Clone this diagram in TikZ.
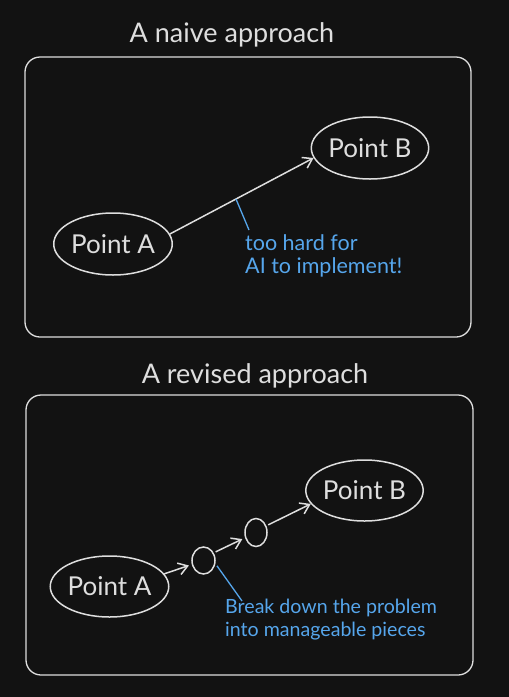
\documentclass[tikz,border=0pt]{standalone}
\usepackage{fontspec}
\setmainfont{Lato}
\usetikzlibrary{shapes.geometric,arrows.meta}
\definecolor{bgc}{HTML}{121212}
\definecolor{ink}{HTML}{DEDEDE}
\definecolor{note}{HTML}{56A6EC}
\tikzset{
  panel/.style={draw=ink, line width=1.3pt, rounded corners=15pt},
  title/.style={text=ink, font=\fontsize{27}{30}\selectfont, anchor=base, inner sep=0pt},
  pointnode/.style={ellipse, draw=ink, line width=1.5pt, text=ink, inner sep=0pt,
    font=\fontsize{26}{30}\selectfont},
  waypoint/.style={ellipse, draw=ink, line width=1.5pt, inner sep=0pt},
  link/.style={draw=ink, line width=1.5pt, -{Straight Barb[length=9pt,width=12pt,line width=1.5pt]}},
  leader/.style={draw=note, line width=1.3pt},
  notetext/.style={text=note, align=left, anchor=north west, inner sep=0pt}
}
\begin{document}
\begin{tikzpicture}[x=1pt,y=-1pt]
\fill[bgc] (0,0) rectangle (509,697);
\useasboundingbox (0,0) rectangle (509,697);

% ---------- top panel ----------
\node[title] (t1) at (232,42) {A naive approach};
\draw[panel] (25,57) rectangle (471,337);
\node[pointnode, minimum width=114pt, minimum height=62pt] (a1) at (113,244) {Point A};
\node[pointnode, minimum width=112pt, minimum height=62pt] (b1) at (370,148) {Point B};
\draw[link] (a1.10) -- (b1.190) coordinate[pos=0.46] (m1);
\node[notetext, font=\fontsize{21.5}{23}\selectfont] (n1) at (245,234) {too hard for\\AI to implement!};
\draw[leader] (m1) -- ([xshift=4pt,yshift=4pt]n1.north west);

% ---------- bottom panel ----------
\node[title] (t2) at (255,383) {A revised approach};
\draw[panel] (26,395) rectangle (473,675);
\node[pointnode, minimum width=113pt, minimum height=61pt] (a2) at (109.5,586.5) {Point A};
\node[pointnode, minimum width=114pt, minimum height=61pt] (b2) at (364.5,490.5) {Point B};
\node[waypoint, minimum width=23pt, minimum height=27pt] (c1) at (203.5,560.5) {};
\node[waypoint, minimum width=22pt, minimum height=28pt] (c2) at (256,532.5) {};
\draw[link, shorten >=3pt] (a2.13) -- (c1);
\draw[link, shorten <=2pt, shorten >=3pt] (c1.37) -- (c2);
\draw[link, shorten <=2pt] (c2.33) -- (b2.194);
\node[notetext, font=\fontsize{19.6}{23}\selectfont] (n2) at (225,599) {Break down the problem\\into manageable pieces};
\draw[leader] ([shift={(3pt,2pt)}]c1.-35) -- ([xshift=17pt,yshift=-2pt]n2.north west);
\end{tikzpicture}
\end{document}
